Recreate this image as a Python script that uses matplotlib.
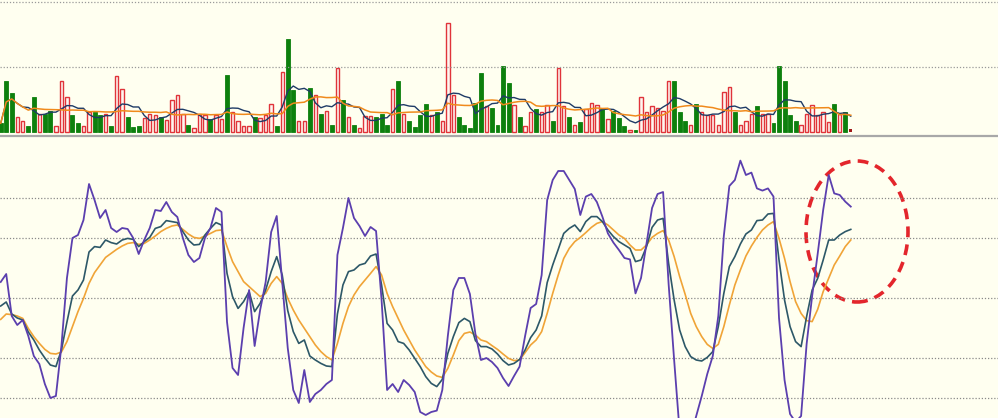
import matplotlib
matplotlib.use("Agg")
import matplotlib.pyplot as plt
from matplotlib.patches import Ellipse
import pandas as pd

# volume bars (gridline = 100), g = down day (filled), r = up day (hollow)
volume = [13, 79, 60, 23, 16, 9, 54, 28, 28, 32,
          9, 79, 54, 26, 13, 9, 31, 31, 26, 27,
          9, 86, 66, 22, 8, 9, 21, 27, 26, 23,
          18, 49, 56, 27, 11, 6, 27, 26, 19, 26,
          19, 88, 31, 17, 9, 9, 22, 21, 26, 43,
          9, 92, 144, 65, 17, 17, 68, 56, 27, 32,
          10, 99, 49, 23, 10, 6, 24, 24, 23, 27,
          10, 66, 78, 28, 16, 7, 26, 43,
          26, 31, 17, 168, 56, 22, 10, 6, 45, 91,
          39, 36, 10, 101, 75, 42, 22, 9, 31, 35,
          31, 42, 16, 99, 39, 23, 11, 15, 35, 44,
          42, 35, 19, 32, 21, 9, 3, 3, 53, 31,
          39, 36, 32, 78, 79, 31, 16, 10, 43, 31,
          26, 26, 10, 62, 69, 31, 10, 17, 27, 39,
          27, 27, 13, 101, 78, 26, 17, 10, 28, 41,
          26, 30, 15, 43, 27, 31, 4]
updown = ("gggrrggrgg" "rrrggrrggr" "grrgggrrrg" "rrrrgrrrgr" "rgrrrrgrrr"
          "grggrrgrgr" "grgrgrrrgg" "grgrgggg"
          "rgrrrggggg" "rggggrgrrg" "rrgrrgrgrr" "rgrgggrgrr" "rrrrgggrgr"
          "rrrrrgrrrg" "rrgggggrrr" "rrrgrgk")

# KDJ lines
K = [46, 48, 42, 40, 39, 33, 29, 24, 20, 16.5,
     15.7, 24, 38, 51, 54, 59, 73, 75.7, 75.3, 79,
     77.7, 77, 79, 79.8, 79.3, 75.7, 78.2, 80.3, 84.8, 85.7,
     88.7, 88.2, 87.7, 83.2, 79, 76.5, 76.8, 81.5, 84.8, 87.7,
     86.5, 62.3, 50.7, 44.8, 48.2, 53.2, 43.2, 47.3, 54, 63.2,
     70.7, 61.5, 43.7, 33.2, 27.3, 29, 21, 19, 17.3, 16,
     15.7, 42, 56.5, 63.2, 64, 66.5, 67.3, 71, 72, 56.5,
     37.3, 34, 28.2, 27.3, 24, 19.8, 15.7, 10.7, 7.3, 5.7,
     9.3, 22.3, 30.7, 37.7, 39.8, 38.2, 28.7, 25.7, 25.7, 24.5,
     22, 18.7, 16.5, 17.3, 19.3, 24, 30.2, 34, 41, 57.7,
     66.5, 74.3, 82.3, 84.8, 86.5, 83.2, 88.2, 90.7, 90.7, 88.2,
     84, 80.7, 78.2, 76.5, 74.8, 68.2, 69, 75.7, 85.3, 89,
     89.8, 67.3, 49, 34, 25.7, 20.7, 19, 18.5, 20.3, 23.2,
     35.7, 52.3, 65.7, 70.7, 77, 82, 84, 88.7, 89, 92,
     92.3, 69, 49, 35.7, 28.2, 25.7, 40.7, 54, 59.8, 69,
     79, 79, 81.5, 83.2, 84.3]
D = [39.3, 42, 41.7, 41, 39.8, 34.8, 30.7, 27.3, 24.3, 22.3,
     22, 23, 28.2, 35.7, 43.2, 49.8, 57.3, 62.7, 66.5, 70.3,
     72.3, 74.3, 76, 77.3, 77.7, 76.8, 77.3, 79, 81, 83.2,
     84.8, 86, 86.5, 84.3, 82, 80.3, 79.8, 81, 82.3, 83.7,
     84, 75.7, 68.2, 63.2, 58.2, 55.7, 53.2, 50.7, 52.3, 57.3,
     60.7, 57.3, 49.8, 44, 39, 34.8, 30.7, 26.5, 23.2, 20.7,
     19, 27.3, 37.3, 45.7, 51.5, 55.7, 59, 62.3, 65.7, 61.5,
     52.3, 45.7, 39.8, 34, 29, 24, 19.8, 15.7, 13, 11,
     10.3, 14.8, 21.5, 28.7, 32.3, 33, 31.5, 29, 28.2, 26.2,
     24.3, 22, 19.8, 18.7, 19, 22.7, 26.5, 29, 33.2, 42.3,
     52.3, 61.5, 69.8, 74.8, 78.2, 80.3, 82.7, 85.3, 87.3, 88.2,
     86.5, 84, 81.5, 79.8, 76.5, 74, 74, 76.5, 80.3, 82.3,
     83.7, 79, 70.7, 60.7, 51.8, 42.3, 35.7, 30.7, 26.8, 24.8,
     26.8, 35.7, 46.5, 56.5, 64, 71, 76, 80.3, 84, 86.5,
     88.2, 79.8, 69.8, 58.2, 48.2, 42.3, 38.7, 38.2, 44.3, 53.2,
     59.8, 66.5, 71, 75.7, 79]
J = [58, 62, 41, 36.5, 39, 31, 21, 17, 7, 0,
     1, 26, 60, 80, 81.5, 89, 107, 99, 90, 94,
     85, 83, 85, 84.5, 80, 72, 79, 85, 94, 93.5,
     98, 93, 90.5, 80, 71.5, 68, 70, 80, 85, 95,
     93, 38, 15, 11.5, 35, 54, 26, 44, 58, 83,
     91, 58, 25, 4, -2.5, 14, -2, 2, 4, 7,
     9, 71.5, 85, 100, 90, 86, 81, 85.5, 83.5, 49,
     4, 7, 3, 9, 6.5, 3, -7, -8.5, -7, -6.3,
     4, 31, 54, 60, 60, 52, 32, 19, 20, 18,
     15, 10, 6, 11, 15.7, 31, 45, 47, 61.5, 99,
     109, 113.5, 113.5, 109, 104.5, 91.5, 100.7, 102, 98, 90.7,
     82.3, 77.7, 74, 70, 69.3, 52.3, 60, 77.3, 95, 102,
     103, 57, 19, -17, -24, -19, -9, 1, 12, 21,
     41, 81, 106, 109, 118.7, 111.5, 112.7, 104.8, 103.7, 104.8,
     100.7, 40, 9, -8, -12, -9, 27, 51, 72, 94,
     111.5, 102.3, 101.5, 98.2, 95.7]

bg = "#fffff0"
x = list(range(len(volume)))
xlim = (-0.7 / 5.52, 997.3 / 5.52)

fig = plt.figure(figsize=(9.98, 4.18), dpi=100)
fig.patch.set_facecolor(bg)

# ---- volume panel
ax1 = fig.add_axes([0, 1 - 135 / 418, 1, 135 / 418])
ax1.set_facecolor(bg)
ax1.set_xlim(xlim)
ax1.set_ylim(-5.1, 203.5)
for lv in [100, 200]:
    ax1.axhline(lv, color="#9a9a9a", lw=0.9, ls=(0, (1, 1.5)))
for i in x:
    c = updown[i]
    if c == "g":
        ax1.bar(i, volume[i], width=0.72, color="#0d800d", edgecolor="#0d800d", lw=0.6)
    elif c == "r":
        ax1.bar(i, volume[i], width=0.62, facecolor="#fff6f0", edgecolor="#e0343a", lw=1.0)
    else:
        ax1.bar(i, volume[i], width=0.62, color="#a01818")
vol = pd.Series(volume)
ax1.plot(x, vol.rolling(5, min_periods=1).mean(), color="#1f3b66", lw=1.0)
ax1.plot(x, vol.rolling(10, min_periods=1).mean(), color="#f08a1c", lw=1.1)
ax1.axis("off")

# separator
fig.add_artist(plt.Line2D([0, 1], [1 - 135.5 / 418] * 2, color="#a8a8a8", lw=1.6))

# ---- KDJ panel
ax2 = fig.add_axes([0, 0, 1, 282 / 418])
ax2.set_facecolor(bg)
ax2.set_xlim(xlim)
ax2.set_ylim(-10, 131)
for lv in [0, 20, 50, 80, 100]:
    ax2.axhline(lv, color="#8a8a8a", lw=0.9, ls=(0, (1, 1.5)))
ax2.plot(x, D, color="#f0a437", lw=1.2)
ax2.plot(x, K, color="#2d5868", lw=1.2)
ax2.plot(x, J, color="#5b3fae", lw=1.3)

circ = Ellipse(((857 - 0.7) / 5.52, (398 - 231.5) / 2), 102 / 5.52, 141 / 2,
               fill=False, edgecolor="#e3262c", lw=2.6, ls=(0, (3, 2)), clip_on=False)
ax2.add_patch(circ)
ax2.axis("off")

fig.savefig("out.png", dpi=100, facecolor=bg)
